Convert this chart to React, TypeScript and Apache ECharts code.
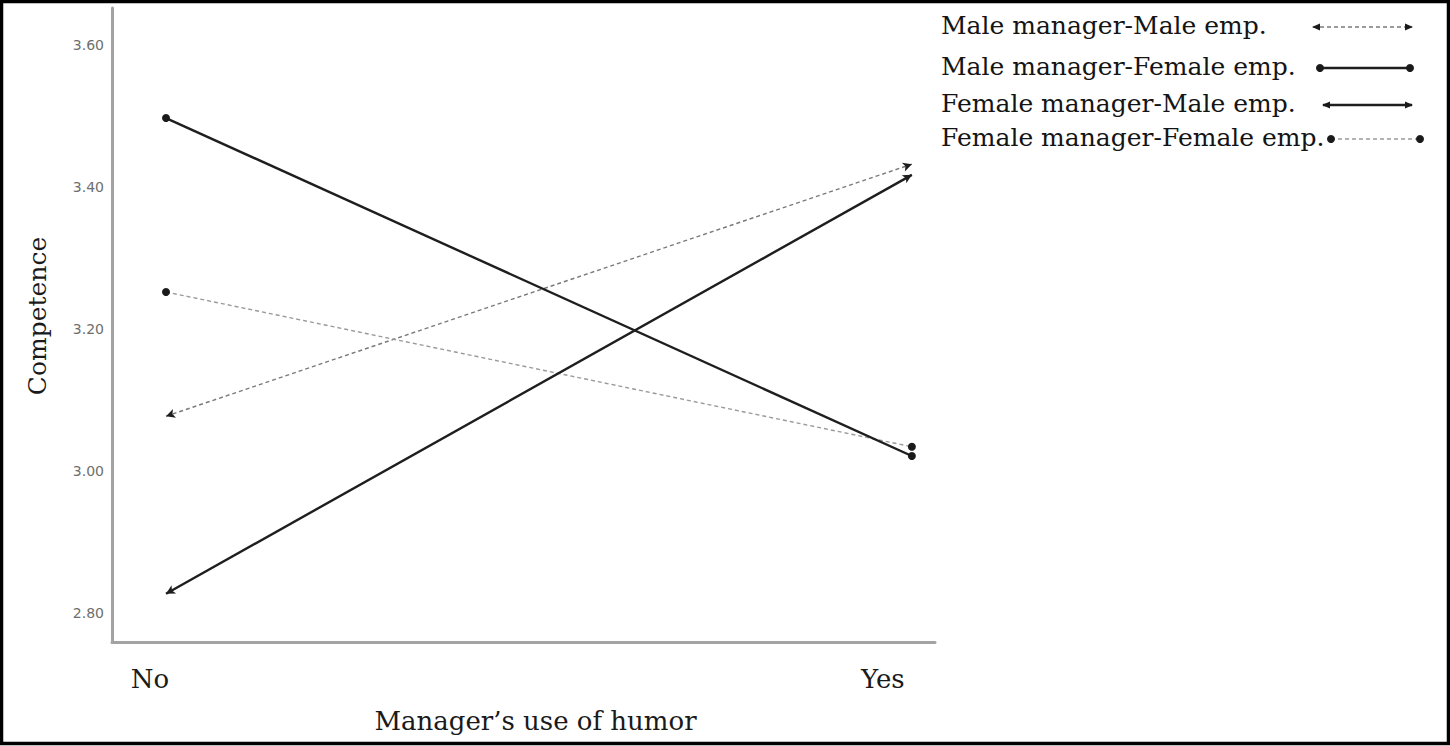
import React, { useEffect, useRef } from "react";
import * as echarts from "echarts";

const categories = ["No", "Yes"];
const seriesNames = [
  "Male manager-Male emp.",
  "Male manager-Female emp.",
  "Female manager-Male emp.",
  "Female manager-Female emp.",
];
const maleMgrMaleEmp = [3.077, 3.432];
const maleMgrFemaleEmp = [3.497, 3.021];
const femaleMgrMaleEmp = [2.827, 3.417];
const femaleMgrFemaleEmp = [3.252, 3.034];
const yTicks = [2.8, 3.0, 3.2, 3.4, 3.6];
const xTitle = "Manager\u2019s use of humor";
const yTitle = "Competence";

const SERIF = "'DejaVu Serif', 'Liberation Serif', serif";

type Sty = { color: string; width: number; dash: number[] | "solid"; marker: "arrow" | "circle" };
const styles: Sty[] = [
  { color: "#7a7a7a", width: 1.4, dash: [4, 3], marker: "arrow" },
  { color: "#1e1e1e", width: 2.4, dash: "solid", marker: "circle" },
  { color: "#1e1e1e", width: 2.4, dash: "solid", marker: "arrow" },
  { color: "#9a9a9a", width: 1.4, dash: [4, 3], marker: "circle" },
];

export default function App() {
  const ref = useRef<HTMLDivElement>(null);
  useEffect(() => {
    if (!ref.current) return;
    const chart = echarts.init(ref.current, null, { renderer: "svg" });
    const values = [maleMgrMaleEmp, maleMgrFemaleEmp, femaleMgrMaleEmp, femaleMgrFemaleEmp];

    const series: any[] = values.map((vals, i) => {
      const s = styles[i];
      const data = vals.map((v, k) => [k, v]);
      const base: any = {
        name: seriesNames[i],
        type: "line",
        data,
        silent: true,
        z: s.dash === "solid" ? 3 : 2,
        lineStyle: { color: s.color, width: s.width, type: s.dash },
        itemStyle: { color: s.marker === "circle" ? "#1a1a1a" : s.color },
        emphasis: { disabled: true },
      };
      if (s.marker === "circle") {
        base.symbol = "circle";
        base.symbolSize = 8;
        base.showSymbol = true;
      } else {
        base.symbol = "none";
        base.markLine = {
          silent: true,
          symbol: ["arrow", "arrow"],
          symbolSize: [7, 9],
          label: { show: false },
          emphasis: { disabled: true },
          lineStyle: { color: "#1e1e1e", width: 0, type: "solid", opacity: 1 },
          data: [[{ coord: data[0] }, { coord: data[1] }]],
        };
      }
      return base;
    });

    // legend (custom, key on the right of each text)
    const rowsY = [27, 68, 105, 139];
    const keyX = [
      [1313, 1412],
      [1320, 1410],
      [1323, 1412],
      [1331, 1420],
    ];
    const graphics: any[] = [
      {
        type: "rect",
        silent: true,
        shape: { x: 1.5, y: 1.5, width: 1447, height: 742 },
        style: { fill: "none", stroke: "#000", lineWidth: 3.5 },
        z: 100,
      },
    ];
    seriesNames.forEach((name, i) => {
      const s = styles[i];
      const y = rowsY[i];
      const [x1, x2] = keyX[i];
      graphics.push({
        type: "text",
        silent: true,
        left: 941,
        top: y - 14,
        style: { text: name, font: `25px ${SERIF}`, fill: "#141414" },
      });
      graphics.push({
        type: "line",
        silent: true,
        shape: { x1, y1: y, x2, y2: y },
        style: {
          stroke: s.color,
          lineWidth: s.width,
          lineDash: s.dash === "solid" ? null : s.dash,
        },
      });
      if (s.marker === "circle") {
        [x1, x2].forEach((cx) =>
          graphics.push({
            type: "circle",
            silent: true,
            shape: { cx, cy: y, r: 4 },
            style: { fill: "#1a1a1a" },
          })
        );
      } else {
        graphics.push({
          type: "polygon",
          silent: true,
          shape: { points: [[x1 - 1, y], [x1 + 7, y - 3.5], [x1 + 7, y + 3.5]] },
          style: { fill: "#1a1a1a" },
        });
        graphics.push({
          type: "polygon",
          silent: true,
          shape: { points: [[x2 + 1, y], [x2 - 7, y - 3.5], [x2 - 7, y + 3.5]] },
          style: { fill: "#1a1a1a" },
        });
      }
    });

    chart.setOption({
      animation: false,
      backgroundColor: "#ffffff",
      grid: { left: 112, right: 515, top: 8, bottom: 104, containLabel: false },
      xAxis: {
        type: "value",
        min: -0.0724,
        max: 1.031,
        name: xTitle,
        nameLocation: "middle",
        nameGap: 66,
        nameTextStyle: {
          fontFamily: SERIF,
          fontSize: 26,
          color: "#1a1a1a",
          padding: [0, 0, 0, 24],
        },
        axisLine: { show: true, onZero: false, lineStyle: { color: "#a3a3a3", width: 3 } },
        axisTick: { show: false },
        splitLine: { show: false },
        axisLabel: {
          customValues: [0, 1],
          margin: 24,
          formatter: (v: number) => (Math.round(v) === 0 ? `{a|${categories[0]}}` : `{b|${categories[1]}}`),
          rich: {
            a: { fontFamily: SERIF, fontSize: 26, color: "#1a1a1a", padding: [0, 32, 0, 0] },
            b: { fontFamily: SERIF, fontSize: 26, color: "#1a1a1a", padding: [0, 58, 0, 0] },
          },
        },
      },
      yAxis: {
        type: "value",
        min: 2.759,
        max: 3.652,
        name: yTitle,
        nameLocation: "middle",
        nameGap: 62,
        nameTextStyle: {
          fontFamily: SERIF,
          fontSize: 25,
          color: "#1a1a1a",
          padding: [0, 0, 0, 18],
        },
        axisLine: { show: true, onZero: false, lineStyle: { color: "#a3a3a3", width: 3 } },
        axisTick: { show: false },
        splitLine: { show: false },
        axisLabel: {
          customValues: yTicks,
          margin: 8,
          formatter: (v: number) => v.toFixed(2),
          fontFamily: "'DejaVu Sans', sans-serif",
          fontSize: 14,
          color: "#6e6e6e",
        },
      },
      series,
      graphic: graphics,
    });
    return () => chart.dispose();
  }, []);
  return (
    <div
      ref={ref}
      style={{ position: "fixed", left: 0, top: 0, width: 1450, height: 746, background: "#fff" }}
    />
  );
}
